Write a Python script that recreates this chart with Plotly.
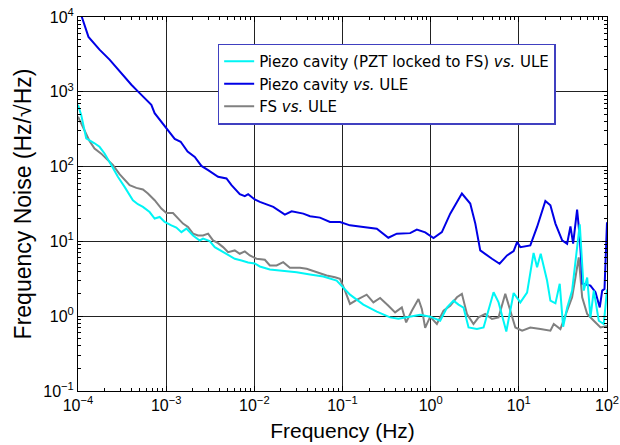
import plotly.graph_objects as go

# ---- data ----
cyan_f = [1.0e-4, 1.087e-4, 1.239e-4, 1.351e-4, 1.54e-4, 1.754e-4, 2.0e-4, 2.384e-4, 2.833e-4, 3.376e-4,
          4.195e-4, 4.78e-4, 5.45e-4, 6.49e-4, 7.40e-4, 8.44e-4, 9.62e-4, 1.146e-3, 1.305e-3, 1.489e-3,
          1.697e-3, 2.016e-3, 2.403e-3, 2.62e-3, 3.12e-3, 3.556e-3, 4.24e-3, 5.04e-3, 6.0e-3, 7.15e-3,
          8.50e-3, 1.01e-2, 1.155e-2, 1.50e-2, 2.125e-2, 3.02e-2, 4.28e-2, 6.05e-2, 8.59e-2, 9.79e-2,
          0.1217, 0.1724, 0.245, 0.3466, 0.4306, 0.5365, 0.760, 0.987, 1.282, 1.528,
          1.816, 2.07, 2.36, 2.69, 3.35, 3.98, 5.17, 5.89, 7.21, 8.73,
          10.4, 12.4, 14.7, 16.1, 17.7, 20.9, 22.8, 26.0, 29.1, 31.8,
          35.3, 40.2, 43.9, 49.1, 54.5, 59.6, 64.9, 70.8, 80.7, 91.9, 100.0]
cyan_v = [669, 491, 239, 227, 205, 184, 150, 105, 73.0, 53.6,
          35.5, 31.4, 28.9, 24.7, 20.2, 21.2, 18.2, 16.4, 15.3, 13.3,
          14.8, 12.0, 10.3, 10.9, 10.1, 8.39, 7.41, 6.49, 5.86, 5.56,
          5.23, 5.07, 4.62, 4.21, 4.08, 3.87, 3.61, 3.39, 3.0, 2.57,
          1.94, 1.43, 1.15, 0.964, 0.926, 0.970, 1.047, 0.985, 0.870, 1.30,
          1.615, 1.43, 1.30, 0.707, 0.673, 0.707, 2.09, 1.53, 0.625, 2.04,
          1.53, 2.07, 7.01, 4.52, 6.84, 3.0, 1.615, 1.485, 2.71, 0.723,
          1.30, 2.20, 5.39, 16.9, 2.20, 3.29, 0.964, 2.20, 0.870, 0.786, 2.27]

blue_f = [1.0e-4, 1.105e-4, 1.315e-4, 1.754e-4, 2.28e-4, 4.03e-4, 5.0e-4, 6.79e-4, 7.40e-4, 9.62e-4,
          1.25e-3, 1.46e-3, 1.75e-3, 2.11e-3, 2.51e-3, 2.99e-3, 3.88e-3, 4.83e-3, 5.51e-3, 6.84e-3,
          7.80e-3, 8.51e-3, 1.01e-2, 1.155e-2, 1.64e-2, 2.22e-2, 2.65e-2, 3.59e-2, 4.28e-2, 5.55e-2,
          7.21e-2, 9.38e-2, 0.1216, 0.172, 0.245, 0.331, 0.413, 0.585, 0.697, 0.867,
          1.077, 1.34, 1.667, 2.26, 2.81, 3.21, 3.65, 4.96, 6.05, 7.35,
          8.73, 9.55, 10.4, 13.5, 16.1, 20.0, 22.8, 26.0, 31.0, 35.3,
          38.5, 41.3, 45.8, 49.1, 52.7, 64.9, 74.0, 82.8, 88.2, 93.7, 100.0]
blue_v = [13400, 10000, 5420, 3660, 2690, 1242, 961, 669, 518, 342,
          234, 215, 159, 135, 102, 89.8, 73.0, 69.5, 56.5, 42.8,
          40.2, 42.8, 36.3, 33.7, 28.9, 22.8, 25.3, 23.5, 21.7, 20.8,
          18.2, 18.2, 16.4, 15.6, 14.8, 11.2, 12.7, 12.9, 14.4, 13.2,
          11.1, 13.3, 23.5, 43.7, 32.1, 17.3, 7.57, 5.86, 5.02, 6.49,
          7.41, 9.79, 8.38, 8.84, 15.6, 34.8, 30.4, 17.3, 10.3, 9.31,
          15.9, 9.31, 26.6, 11.4, 2.73, 2.57, 2.09, 1.31, 2.20, 2.32, 18.0]

gray_f = [1.0e-4, 1.186e-4, 1.351e-4, 1.54e-4, 1.835e-4, 2.18e-4, 2.485e-4, 2.96e-4, 3.376e-4, 3.85e-4,
          4.59e-4, 5.45e-4, 6.21e-4, 7.40e-4, 8.82e-4, 1.005e-3, 1.195e-3, 1.362e-3, 1.552e-3, 1.769e-3,
          2.016e-3, 2.30e-3, 2.62e-3, 2.99e-3, 3.40e-3, 3.88e-3, 4.42e-3, 5.04e-3, 6.0e-3, 6.84e-3,
          7.80e-3, 8.89e-3, 1.059e-2, 1.316e-2, 1.50e-2, 1.788e-2, 2.125e-2, 2.53e-2, 3.29e-2, 3.92e-2,
          5.09e-2, 6.61e-2, 8.22e-2, 9.37e-2, 0.1067, 0.1216, 0.145, 0.188, 0.224, 0.267,
          0.3316, 0.395, 0.471, 0.527, 0.6115, 0.727, 0.794, 0.866, 0.987, 1.176,
          1.398, 1.667, 1.985, 2.26, 2.58, 3.06, 3.49, 4.16, 4.96, 5.89,
          7.02, 8.01, 9.13, 10.9, 13.5, 17.6, 22.8, 24.9, 29.6, 35.3,
          40.2, 43.9, 47.8, 52.3, 59.6, 70.8, 84.4, 100.0]
gray_v = [466, 300, 220, 174, 149, 122, 105, 79.3, 65.9, 56.5,
          51.9, 49.4, 43.7, 35.5, 27.5, 24.0, 24.0, 20.2, 17.3, 15.6,
          12.7, 12.0, 12.0, 12.7, 10.3, 9.49, 8.39, 7.18, 7.57, 6.84,
          7.34, 6.49, 5.86, 5.68, 4.76, 4.76, 5.27, 4.44, 4.44, 4.30,
          3.87, 3.50, 3.32, 3.16, 2.20, 1.46, 1.65, 1.94, 1.53, 1.755,
          1.38, 1.125, 1.31, 0.826, 1.185, 1.70, 1.25, 0.70, 0.985, 0.786,
          1.185, 1.38, 1.79, 1.99, 1.07, 0.786, 0.964, 1.07, 0.917, 0.964,
          1.99, 1.185, 0.707, 0.639, 0.707, 0.673, 0.639, 0.786, 0.673, 1.185,
          1.79, 3.32, 6.10, 1.79, 1.07, 0.870, 0.707, 0.74]

x_tickvals = [1e-4, 1e-3, 1e-2, 1e-1, 1e0, 1e1, 1e2]
x_ticktext = ["10<sup>\u22124</sup>", "10<sup>\u22123</sup>", "10<sup>\u22122</sup>", "10<sup>\u22121</sup>",
              "10<sup>0</sup>", "10<sup>1</sup>", "10<sup>2</sup>"]
y_tickvals = [1e-1, 1e0, 1e1, 1e2, 1e3, 1e4]
y_ticktext = ["10<sup>\u22121</sup>", "10<sup>0</sup>", "10<sup>1</sup>", "10<sup>2</sup>",
              "10<sup>3</sup>", "10<sup>4</sup>"]

names = ["Piezo cavity (PZT locked to FS) <i>vs.</i> ULE",
         "Piezo cavity <i>vs.</i> ULE",
         "FS <i>vs.</i> ULE"]

FONT = "Liberation Sans, Arial, Helvetica, sans-serif"
LEGEND_FONT = "DejaVu Sans, Liberation Sans, Arial, sans-serif"

fig = go.Figure()
fig.add_trace(go.Scatter(x=gray_f, y=gray_v, mode="lines", name=names[2], legendrank=3,
                         line=dict(color="#808080", width=2)))
fig.add_trace(go.Scatter(x=blue_f, y=blue_v, mode="lines", name=names[1], legendrank=2,
                         line=dict(color="#0000E6", width=2)))
fig.add_trace(go.Scatter(x=cyan_f, y=cyan_v, mode="lines", name=names[0], legendrank=1,
                         line=dict(color="#00F5F5", width=2)))

axis_common = dict(
    automargin=False,
    showline=True, linecolor="black", linewidth=1, mirror="ticks",
    ticks="inside", ticklen=5, tickcolor="black",
    showgrid=True, gridcolor="#222222", gridwidth=1,
    zeroline=False,
    ticklabeloverflow="allow",
    tickfont=dict(family=FONT, size=16, color="black"),
    minor=dict(dtick="D1", ticks="inside", ticklen=3, tickcolor="black", showgrid=False),
)

fig.update_xaxes(type="log", range=[-4, 2], tickvals=x_tickvals, ticktext=x_ticktext,
                 title=dict(text="Frequency (Hz)", font=dict(family=FONT, size=21, color="black"), standoff=10),
                 **axis_common)
fig.update_yaxes(type="log", range=[-1, 4], tickvals=y_tickvals, ticktext=y_ticktext,
                 title=dict(text="Frequency Noise (Hz/\u221aHz)", font=dict(family=FONT, size=23, color="black"), standoff=5),
                 **axis_common)

fig.update_layout(
    template="none",
    width=620, height=445,
    margin=dict(l=78, r=13, t=17, b=54, pad=0),
    paper_bgcolor="white", plot_bgcolor="white",
    font=dict(family=FONT, color="black"),
    showlegend=True,
    legend=dict(x=0.264, y=0.929, xanchor="left", yanchor="top",
                bgcolor="white", bordercolor="#4040C0", borderwidth=1.5,
                font=dict(family=LEGEND_FONT, size=15, color="black"),
                tracegroupgap=0),
)

# remove the default page margin so the figure sits at the window's top-left corner
fig.write_html("out.html", config={"displayModeBar": False},
               post_script="document.body.style.margin='0';")
